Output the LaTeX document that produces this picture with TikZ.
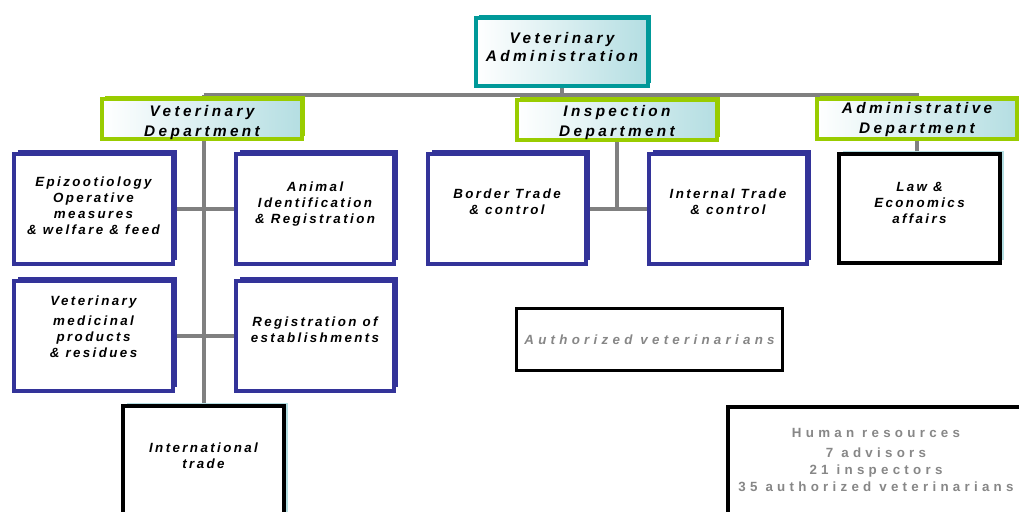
\documentclass[tikz,border=0pt]{standalone}
\usepackage{fontspec}
\setmainfont{Liberation Sans}
\newfontfamily\orgfont[LetterSpace=18]{Liberation Sans}
\newfontfamily\topfont[LetterSpace=22]{Liberation Sans}
\newfontfamily\grayfont[LetterSpace=32]{Liberation Sans}
\usetikzlibrary{positioning,shadows,backgrounds}
\definecolor{unitblue}{RGB}{51,51,153}
\definecolor{deptgreen}{RGB}{153,204,0}
\definecolor{headteal}{RGB}{0,153,153}
\definecolor{paleteal}{RGB}{180,222,226}
\definecolor{linegray}{RGB}{128,128,128}
\definecolor{textgray}{RGB}{135,135,135}
\newcommand\liftup[2]{\raisebox{#1}[\height][\depth]{\begin{tabular}{@{}c@{}}#2\end{tabular}}}

\begin{document}
\begin{tikzpicture}
[x=0.75pt,y=-0.75pt,
 every node/.style={font=\orgfont\bfseries\itshape\fontsize{10}{12}\selectfont,align=center,inner sep=0pt},
 head/.style={draw=headteal,line width=2.6pt,left color=white,right color=paleteal,minimum width=129pt,minimum height=51pt,font=\topfont\bfseries\itshape\fontsize{11.5}{13.5}\selectfont,general shadow={shadow xshift=2.5pt,shadow yshift=2.5pt,fill=headteal}},
 dept/.style={draw=deptgreen,line width=2.6pt,left color=white,right color=paleteal,minimum width=150pt,minimum height=25.5pt,font=\topfont\bfseries\itshape\fontsize{11.5}{15}\selectfont,general shadow={shadow xshift=2.5pt,shadow yshift=2.5pt,fill=deptgreen}},
 unit/.style={draw=unitblue,line width=3pt,fill=white,minimum width=119pt,minimum height=83pt,general shadow={shadow xshift=3pt,shadow yshift=3pt,fill=unitblue}},
 plain/.style={draw=black,line width=3pt,fill=white,minimum width=121pt,minimum height=82pt,general shadow={shadow xshift=3pt,shadow yshift=2.5pt,fill=paleteal}},
 note/.style={draw=black,line width=2.4pt,fill=white,text=textgray},
 conn/.style={draw=linegray,line width=3pt}]

\useasboundingbox (0,0) rectangle (1019,511);

\node[head] (admin) at (562,52) {\liftup{2.25pt}{Veterinary\\Administration}};

\node[dept] (vetdept) at (202,119) {\liftup{-2.5pt}{Veterinary\\Department}};
\node[dept] (inspdept) at (617,120) {\liftup{-2pt}{Inspection\\Department}};
\node[dept] (admdept) at (917,119) {\liftup{0pt}{Administrative\\Department}};

\node[unit] (epiz) at (93.5,209) {\liftup{1.5pt}{Epizootiology\\Operative\\measures\\\& welfare \& feed}};
\node[unit] (animid) at (315,209) {\liftup{3.3pt}{Animal\\Identification\\\& Registration}};
\node[unit] (vetmed) at (93.5,336) {\liftup{5.5pt}{Veterinary\\[3pt]medicinal\\products\\\& residues}};
\node[unit] (regest) at (315,336) {\liftup{3.75pt}{Registration of\\establishments}};
\node[plain,minimum height=97pt] (intl) at (203.5,471) {\liftup{10.5pt}{International\\trade}};

\node[unit] (border) at (507,209) {\liftup{4.6pt}{Border Trade\\\& control}};
\node[unit] (internal) at (728,209) {\liftup{4.6pt}{Internal Trade\\\& control}};
\node[plain] (law) at (919.5,208.5) {\liftup{3pt}{Law \&\\Economics\\affairs}};

\node[note,minimum width=199pt,minimum height=46pt,font=\grayfont\bfseries\itshape\fontsize{10}{12}\selectfont] (authvet) at (649.5,339.5) {Authorized veterinarians};
\node[note,minimum width=222pt,minimum height=94.5pt,font=\grayfont\bfseries\fontsize{10}{13}\selectfont] (hr) at (876,470) {\liftup{6.75pt}{Human resources\\[2pt]7 advisors\\21 inspectors\\35 authorized veterinarians}};

\begin{scope}[on background layer]
\fill[white] (0,0) rectangle (1019,511);
\coordinate (bus) at (562,95);
\draw[conn] (admin.south) -- (bus);
\draw[conn] (bus -| intl) -- (bus -| admdept) -- (admdept.north);
\draw[conn] (bus -| intl) -- (intl.north);
\draw[conn] (bus -| inspdept) -- (inspdept.south |- border.east);
\draw[conn] (epiz.east) -- (animid.west);
\draw[conn] (vetmed.east) -- (regest.west);
\draw[conn] (border.east) -- (internal.west);
\draw[conn] (admdept.south) -- (admdept.south |- law.north);
\end{scope}
\end{tikzpicture}
\end{document}
